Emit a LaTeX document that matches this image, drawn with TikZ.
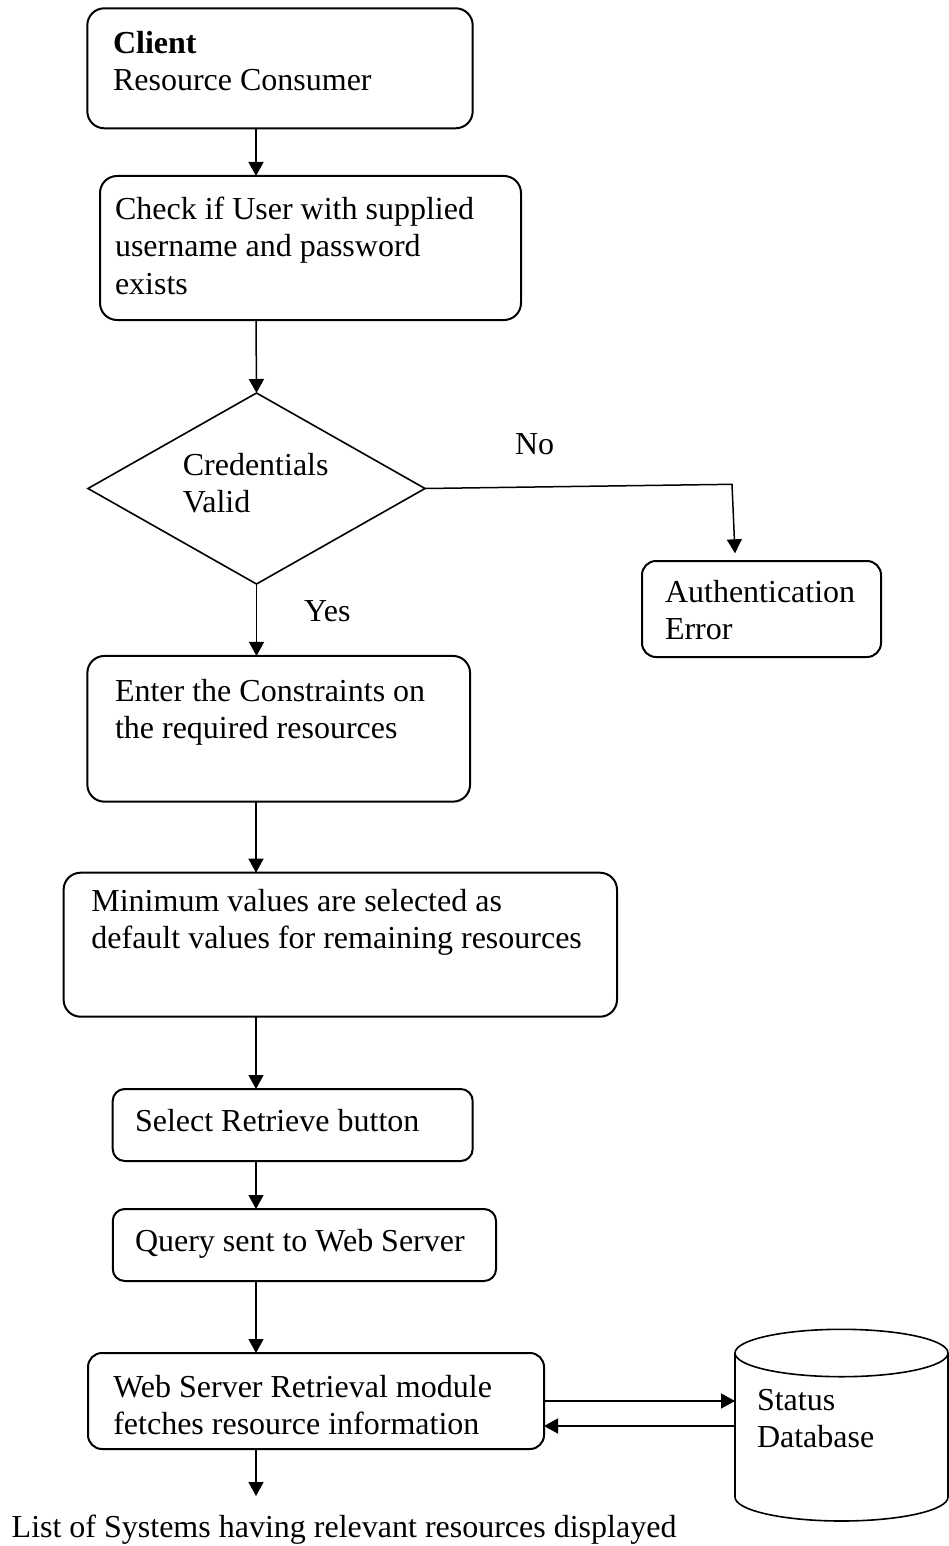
\documentclass[tikz,border=0pt]{standalone}
\usepackage{fontspec}
\setmainfont{Liberation Serif}
\usetikzlibrary{arrows.meta,shapes.geometric}
\begin{document}
\begin{tikzpicture}[x=1pt,y=-1pt,
  every node/.style={inner sep=0pt, outer sep=0pt},
  box/.style={draw, line width=2pt, rounded corners=#1},
  box/.default=17pt,
  % multi-line labels are anchored at the baseline of their last line
  txt/.style={anchor=base west, align=left, font=\fontsize{32}{37}\selectfont},
  flow/.style={line width=1.5pt, -{Triangle[length=14pt,width=15pt]}}
]
\useasboundingbox (0,0) rectangle (949,1546);

% process boxes
\node[box, minimum width=385.4pt, minimum height=120pt] (client) at (280,68.3) {};
\node[box, minimum width=421pt, minimum height=144pt] (check) at (310.5,248) {};
\node[draw, diamond, line width=1.6pt, minimum width=337pt, minimum height=191pt] (valid) at (256.5,488.5) {};
\node[box=14pt, minimum width=239pt, minimum height=96pt] (autherr) at (761.5,609) {};
\node[box, minimum width=382.7pt, minimum height=145.7pt] (enter) at (278.7,728.8) {};
\node[box, minimum width=553.4pt, minimum height=144pt] (minval) at (340.3,944.7) {};
\node[box=12pt, minimum width=360pt, minimum height=72pt] (select) at (292.7,1125) {};
\node[box=12pt, minimum width=383.3pt, minimum height=72pt] (query) at (304.4,1245) {};
\node[box=14pt, minimum width=456pt, minimum height=96pt] (web) at (316,1401) {};

% status database cylinder
\node[minimum width=213pt, minimum height=192pt] (db) at (841.5,1425) {};
\draw[line width=1.6pt] (841.5,1353) ellipse [x radius=106.5pt, y radius=23.7pt];
\draw[line width=1.6pt] (db.west |- 0,1353) -- (db.west |- 0,1497)
  arc[start angle=180, end angle=360, x radius=106.5pt, y radius=24pt]
  -- (db.east |- 0,1353);

% texts
\node[txt] (tclient) at (113,91) {\textbf{Client}\\Resource Consumer};
\node[txt] (tcheck) at (115,294) {Check if User with supplied\\username and password\\exists};
\node[txt] (tvalid) at (182.8,512) {Credentials\\Valid};
\node[txt] (tno) at (515,454.3) {No};
\node[txt] (tyes) at (304,621.7) {Yes};
\node[txt] (tauth) at (665,639) {Authentication\\Error};
\node[txt] (tenter) at (115,738.7) {Enter the Constraints on\\the required resources};
\node[txt] (tmin) at (91.4,948) {Minimum values are selected as\\default values for remaining resources};
\node[txt] (tselect) at (135,1131.7) {Select Retrieve button};
\node[txt] (tquery) at (135,1251.7) {Query sent to Web Server};
\node[txt] (tweb) at (113.3,1434) {Web Server Retrieval module\\fetches resource information};
\node[txt] (tdb) at (757,1447.7) {Status\\Database};
\node[txt] (result) at (11.7,1537) {List of Systems having relevant resources displayed};

% connectors
\coordinate (spine) at (256,0);
\draw[flow] (client.south -| spine) -- (check.north -| spine);
\draw[flow] (check.south -| spine) -- (valid.north);
\draw[flow] (valid.south) -- (enter.north -| valid.south);
\coordinate (nobend) at (732,484.3);
\coordinate (noend) at (735,553.3);
\draw[flow] (valid.east) -- (nobend) -- (noend);
\draw[flow] (enter.south -| spine) -- (minval.north -| spine);
\draw[flow] (minval.south -| spine) -- (select.north -| spine);
\draw[flow] (select.south -| spine) -- (query.north -| spine);
\draw[flow] (query.south -| spine) -- (web.north -| spine);
\coordinate (outtip) at (256,1496);
\draw[flow] (web.south -| spine) -- (outtip);
\draw[flow] (web.east |- 0,1401) -- (db.west |- 0,1401);
\draw[flow] (db.west |- 0,1426) -- (web.east |- 0,1426);
\end{tikzpicture}
\end{document}
